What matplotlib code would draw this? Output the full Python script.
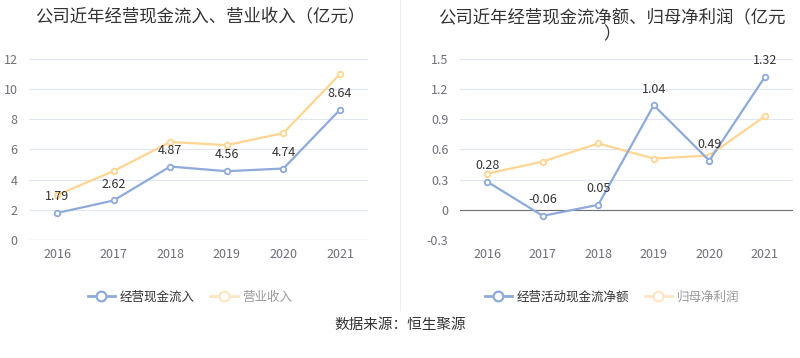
import matplotlib
matplotlib.use("Agg")
import matplotlib.pyplot as plt
from matplotlib.lines import Line2D

plt.rcParams['font.family'] = ['Noto Sans CJK SC', 'DejaVu Sans']

years = ['2016', '2017', '2018', '2019', '2020', '2021']
cash_inflow = [1.79, 2.62, 4.87, 4.56, 4.74, 8.64]
revenue = [2.98, 4.57, 6.50, 6.29, 7.09, 11.00]
cash_net = [0.28, -0.06, 0.05, 1.04, 0.49, 1.32]
net_profit = [0.36, 0.48, 0.66, 0.51, 0.54, 0.93]

left_title = '公司近年经营现金流入、营业收入（亿元）'
right_title = '公司近年经营现金流净额、归母净利润（亿元\n）'
left_legend = ['经营现金流入', '营业收入']
right_legend = ['经营活动现金流净额', '归母净利润']
source = '数据来源：恒生聚源'

BLUE = '#8eaadb'
YELLOW = '#ffd591'
GRID = '#e0e6f1'
TICK = '#6e7079'

W, H = 800, 358
fig = plt.figure(figsize=(8, 3.58), dpi=100)

def ax_rect(x0, y0, x1, y1):
    return [x0 / W, 1 - y1 / H, (x1 - x0) / W, (y1 - y0) / H]

axL = fig.add_axes(ax_rect(28.7, 59, 368.3, 240))
axR = fig.add_axes(ax_rect(459.5, 59, 792.5, 240))

def style(ax, ymin, ymax, step, fmt):
    x = list(range(len(years)))
    ax.set_xlim(-0.5, len(years) - 0.5)
    ax.set_ylim(ymin, ymax)
    ticks = []
    v = ymin
    while v <= ymax + 1e-9:
        ticks.append(round(v, 4))
        v += step
    ax.set_yticks(ticks)
    ax.set_yticklabels([fmt(t) for t in ticks], fontsize=9, color=TICK)
    ax.set_xticks(x)
    ax.set_xticklabels(years, fontsize=9, color=TICK)
    for t in ticks:
        ax.axhline(t, color=GRID, lw=0.8, zorder=0)
    for s in ['top', 'right', 'left']:
        ax.spines[s].set_visible(False)
    ax.spines['bottom'].set_visible(False)
    ax.tick_params(axis='y', length=0, pad=8)
    ax.tick_params(axis='x', length=0, pad=6)
    ax.set_facecolor('none')

style(axL, 0, 12, 2, lambda t: f'{int(t)}')
style(axR, -0.3, 1.5, 0.3, lambda t: ('0' if abs(t) < 1e-9 else f'{t:g}'))
axL.axhline(0, color='#6e7079', lw=0.8, zorder=1)
axR.axhline(0, color='#6e7079', lw=0.8, zorder=1)

x = list(range(len(years)))
mk = dict(marker='o', markersize=4, markerfacecolor='white', markeredgewidth=1.3, lw=1.6)
axL.plot(x, revenue, color=YELLOW, zorder=3, **mk)
axL.plot(x, cash_inflow, color=BLUE, zorder=4, **mk)
axR.plot(x, net_profit, color=YELLOW, zorder=3, **mk)
axR.plot(x, cash_net, color=BLUE, zorder=4, **mk)

for xi, v in zip(x, cash_inflow):
    axL.annotate(f'{v:.2f}', (xi, v), xytext=(0, 7), textcoords='offset points',
                 ha='center', va='bottom', fontsize=9, color='#333333', zorder=5)
for xi, v in zip(x, cash_net):
    axR.annotate(f'{v:.2f}', (xi, v), xytext=(0, 7), textcoords='offset points',
                 ha='center', va='bottom', fontsize=9, color='#333333', zorder=5)

fig.text(200 / W, 1 - 16 / H, left_title, ha='center', va='center', fontsize=12.5, color='#333333')
fig.text(612 / W, 1 - 26 / H, right_title, ha='center', va='center', fontsize=12.5,
         color='#333333', linespacing=0.95)

# divider
fig.add_artist(Line2D([400 / W, 400 / W], [1 - 310 / H, 1.0], color='#eeeeee', lw=0.8))

def legend(ax, labels, cx):
    handles = [
        Line2D([], [], color=BLUE, marker='o', markersize=7, markerfacecolor='white',
               markeredgewidth=1.6, lw=2),
        Line2D([], [], color='#fde6c4', marker='o', markersize=7, markerfacecolor='white',
               markeredgewidth=1.6, lw=2),
    ]
    leg = fig.legend(handles, labels, loc='center', bbox_to_anchor=(cx / W, 1 - 297 / H),
                     ncol=2, frameon=False, fontsize=9, handlelength=2.2,
                     handletextpad=0.4, columnspacing=1.2)
    texts = leg.get_texts()
    texts[0].set_color('#333333')
    texts[1].set_color('#999999')

legend(axL, left_legend, 190)
legend(axR, right_legend, 612)

fig.text(400 / W, 1 - 325 / H, source, ha='center', va='center', fontsize=10.5, color='#333333')

fig.savefig('out.png', dpi=100)
